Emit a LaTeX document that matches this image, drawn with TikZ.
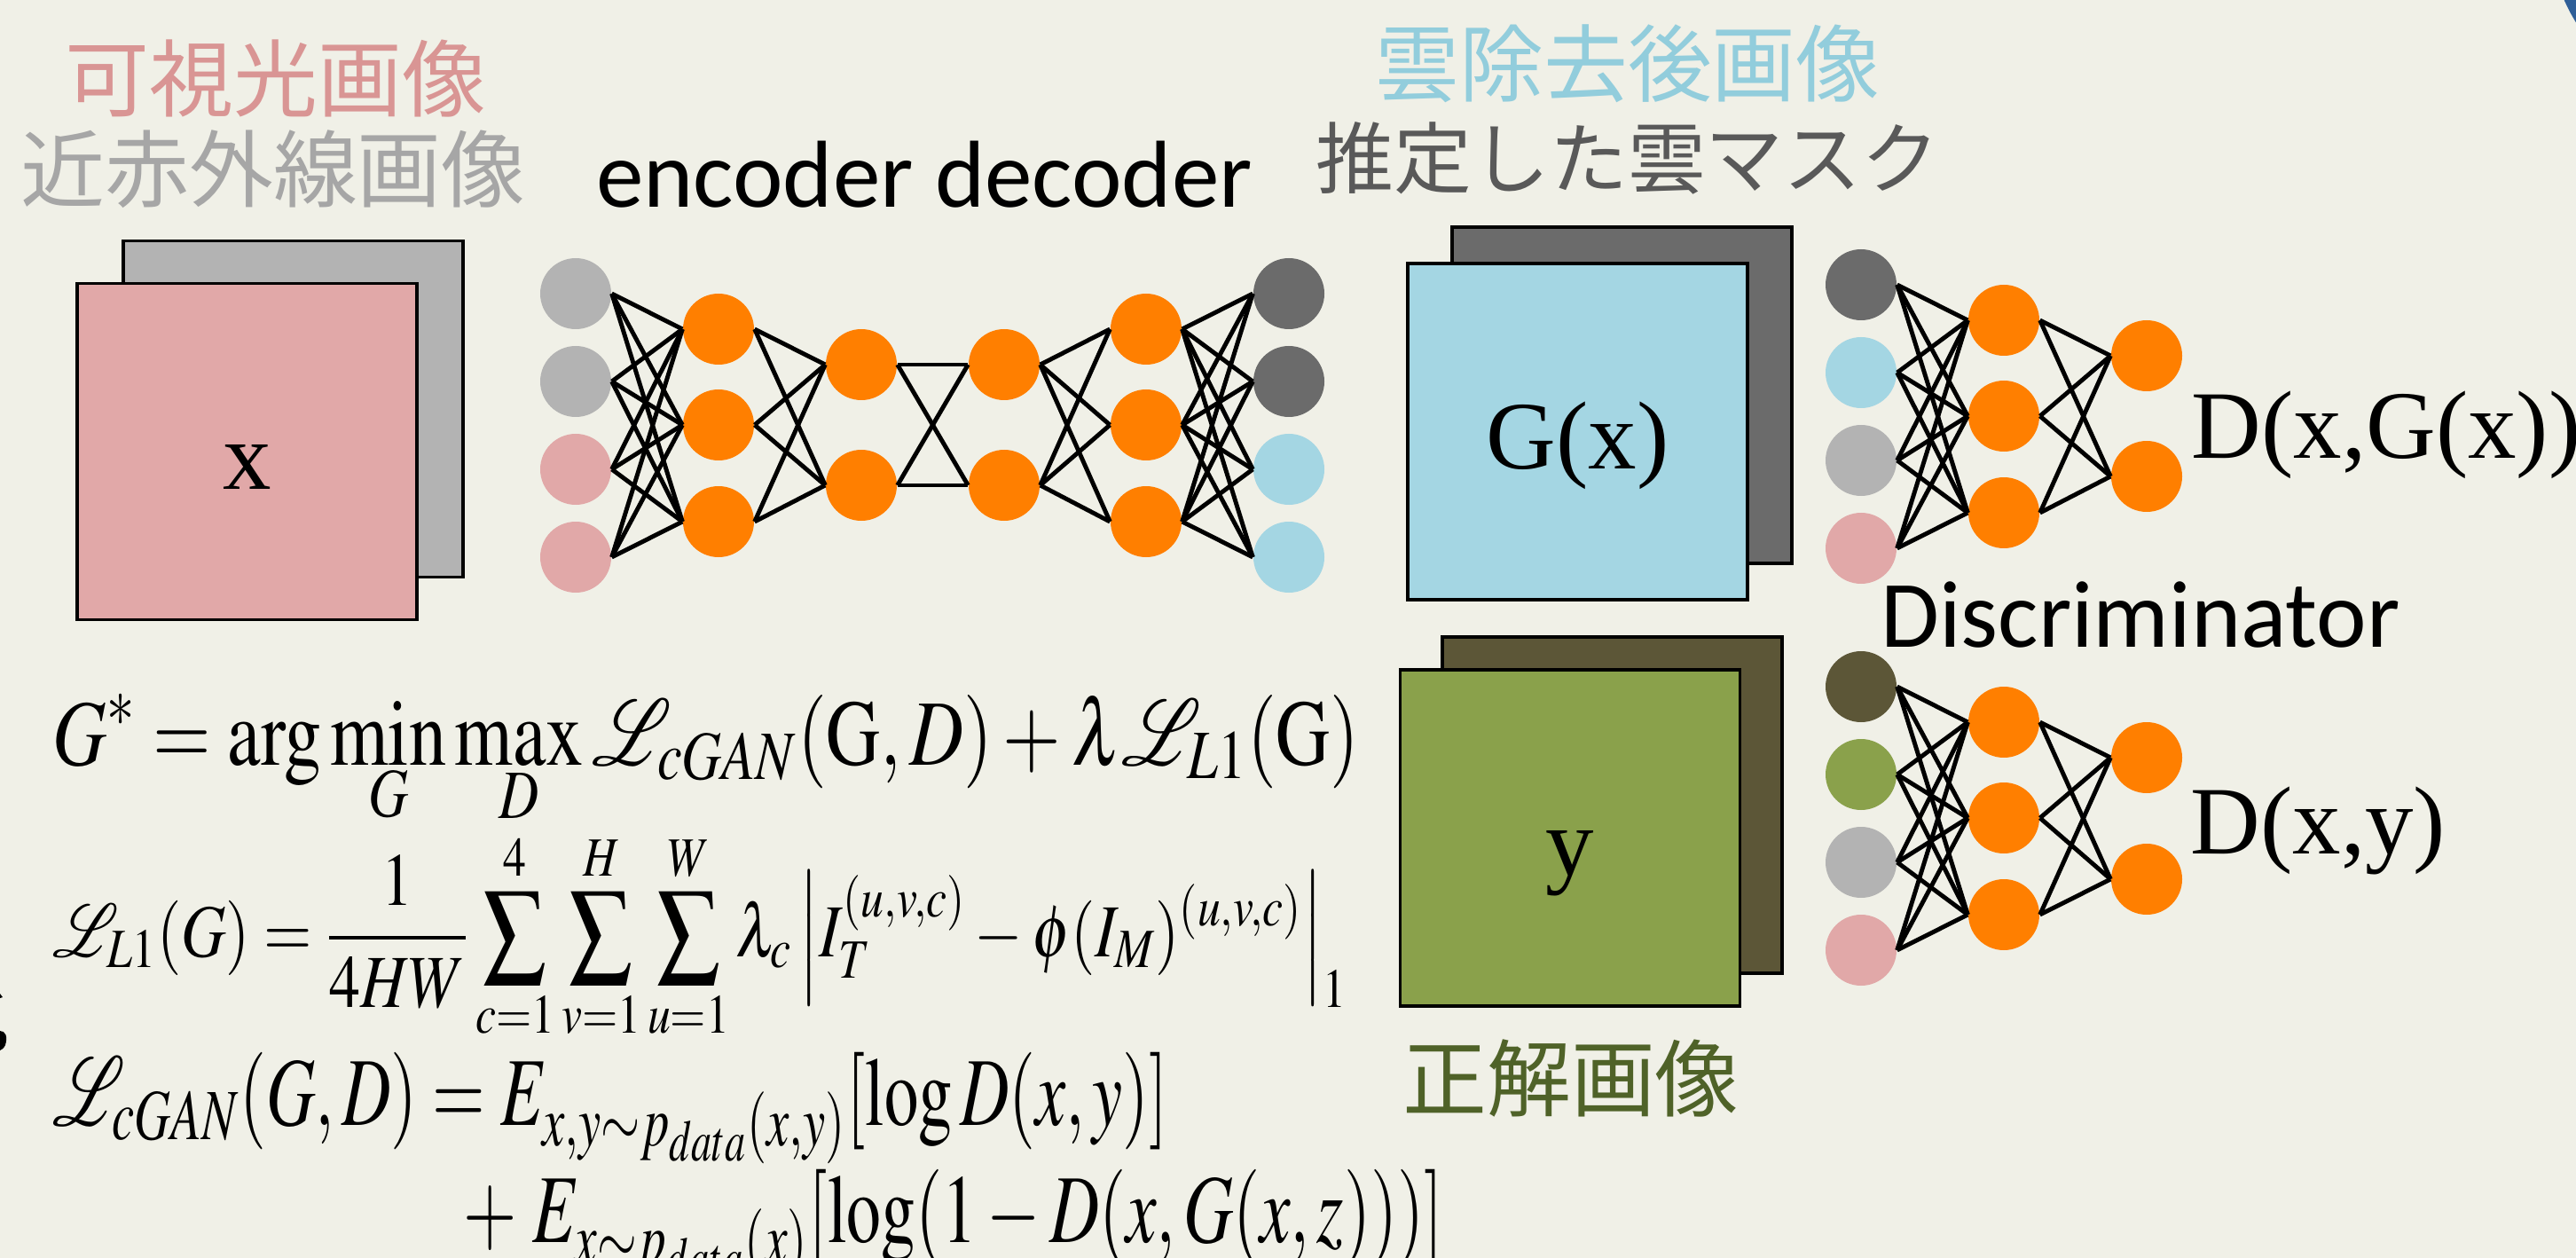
\documentclass[tikz,border=0pt]{standalone}
\usepackage{mathptmx}
\usepackage{graphicx}
\usepackage{fontspec}
\usepackage{tikz}
\usetikzlibrary{positioning,calc}
\newfontfamily\jpfont{Noto Sans CJK JP}
\newfontfamily\sansfont{Carlito}
\newfontfamily\seriffont{Liberation Serif}
\definecolor{paper}{HTML}{F0F0E7}
\definecolor{ink}{HTML}{000000}
\definecolor{lgray}{HTML}{B3B3B3}
\definecolor{dgray}{HTML}{6B6B6B}
\definecolor{pinkfill}{HTML}{E1A8A8}
\definecolor{bluefill}{HTML}{A4D6E3}
\definecolor{greenfill}{HTML}{8AA14B}
\definecolor{olivefill}{HTML}{5C5637}
\definecolor{hidorange}{HTML}{FF7F00}
\definecolor{pinktext}{HTML}{D99594}
\definecolor{graytext}{HTML}{A6A6A6}
\definecolor{bluetext}{HTML}{92CDDC}
\definecolor{dgraytext}{HTML}{595959}
\definecolor{olivetext}{HTML}{4F6228}
\definecolor{cornerblue}{HTML}{2F5F98}
\newcommand{\uplim}[1]{\smash{\raisebox{1pt}{$\scriptstyle #1$}}}
\tikzset{
  neuron/.style={circle, inner sep=0pt, minimum size=0.8cm, draw=none},
  hid/.style={neuron, fill=hidorange},
  img/.style={rectangle, draw=ink, line width=0.9pt, minimum width=3.83cm, minimum height=3.79cm},
  link/.style={line width=1.4pt, draw=ink},
  jptitle/.style={font=\jpfont\fontsize{27}{30}\selectfont, inner sep=0pt},
  sanslabel/.style={font=\sansfont\fontsize{30.5}{34}\selectfont, inner sep=0pt},
  imglabel/.style={font=\seriffont\fontsize{31}{34}\selectfont, inner sep=0pt},
  eq/.style={inner sep=0pt, anchor=base west, font=\fontsize{24}{28}\selectfont}
}

\begin{document}
\begin{tikzpicture}
  \useasboundingbox (0,0) rectangle (29.04,-14.18);
  \fill[paper] (0,0) rectangle (29.04,-14.18);
  \fill[cornerblue] (30.74,0.80) circle (2.0);

  % titles
  \node[jptitle, text=pinktext] (vistitle) at (3.11,-0.88) {可視光画像};
  \node[jptitle, text=graytext] (nirtitle) at (3.08,-1.91) {近赤外線画像};
  \node[jptitle, text=bluetext] (outtitle) at (18.35,-0.72) {雲除去後画像};
  \node[jptitle, text=dgraytext, font=\jpfont\fontsize{25}{28}\selectfont] (masktitle) at (18.35,-1.78) {推定した雲マスク};
  \node[sanslabel, anchor=base] (enctitle) at (10.42,-2.34) {encoder decoder};

  % input images
  \node[img, fill=lgray] (xback) at (3.305,-4.61) {};
  \node[img, fill=pinkfill] (xfront) at (2.785,-5.09) {};
  \node[imglabel, anchor=base] (xlab) at ([yshift=-0.42cm]xfront.center) {x};

  % generator
  \node[neuron, fill=lgray] (ein1) at (6.49,-3.31) {};
  \node[neuron, fill=lgray] (ein2) at (6.49,-4.30) {};
  \node[neuron, fill=pinkfill] (ein3) at (6.49,-5.29) {};
  \node[neuron, fill=pinkfill] (ein4) at (6.49,-6.28) {};
  \node[hid] (eh1) at (8.10,-3.71) {};
  \node[hid] (eh2) at (8.10,-4.79) {};
  \node[hid] (eh3) at (8.10,-5.88) {};
  \node[hid] (ez1) at (9.71,-4.11) {};
  \node[hid] (ez2) at (9.71,-5.47) {};
  \node[hid] (dz1) at (11.32,-4.11) {};
  \node[hid] (dz2) at (11.32,-5.47) {};
  \node[hid] (dh1) at (12.92,-3.71) {};
  \node[hid] (dh2) at (12.92,-4.79) {};
  \node[hid] (dh3) at (12.92,-5.88) {};
  \node[neuron, fill=dgray] (dout1) at (14.53,-3.31) {};
  \node[neuron, fill=dgray] (dout2) at (14.53,-4.30) {};
  \node[neuron, fill=bluefill] (dout3) at (14.53,-5.29) {};
  \node[neuron, fill=bluefill] (dout4) at (14.53,-6.28) {};

  \foreach \i in {1,...,4} \foreach \j in {1,2,3} \draw[link] (ein\i.east) -- (eh\j.west);
  \foreach \i in {1,2,3} \foreach \j in {1,2} \draw[link] (eh\i.east) -- (ez\j.west);
  \foreach \i in {1,2} \foreach \j in {1,2} \draw[link] (ez\i.east) -- (dz\j.west);
  \foreach \i in {1,2} \foreach \j in {1,2,3} \draw[link] (dz\i.east) -- (dh\j.west);
  \foreach \i in {1,2,3} \foreach \j in {1,...,4} \draw[link] (dh\i.east) -- (dout\j.west);

  % generated image
  \node[img, fill=dgray] (gback) at (18.285,-4.455) {};
  \node[img, fill=bluefill] (gfront) at (17.785,-4.865) {};
  \node[imglabel, anchor=base] (glab) at ([yshift=-0.42cm]gfront.center) {G(x)};

  % ground truth
  \node[img, fill=olivefill] (yback) at (18.175,-9.075) {};
  \node[img, fill=greenfill] (yfront) at (17.70,-9.445) {};
  \node[imglabel, anchor=base] (ylab) at ([yshift=-0.42cm]yfront.center) {y};
  \node[jptitle, text=olivetext] (gttitle) at (17.71,-12.15) {正解画像};

  % discriminator, fake pair
  \node[neuron, fill=dgray] (fin1) at (20.98,-3.21) {};
  \node[neuron, fill=bluefill] (fin2) at (20.98,-4.20) {};
  \node[neuron, fill=lgray] (fin3) at (20.98,-5.19) {};
  \node[neuron, fill=pinkfill] (fin4) at (20.98,-6.18) {};
  \node[hid] (fh1) at (22.59,-3.61) {};
  \node[hid] (fh2) at (22.59,-4.69) {};
  \node[hid] (fh3) at (22.59,-5.78) {};
  \node[hid] (fout1) at (24.20,-4.01) {};
  \node[hid] (fout2) at (24.20,-5.37) {};
  \foreach \i in {1,...,4} \foreach \j in {1,2,3} \draw[link] (fin\i.east) -- (fh\j.west);
  \foreach \i in {1,2,3} \foreach \j in {1,2} \draw[link] (fh\i.east) -- (fout\j.west);
  \node[imglabel, anchor=base west] (fakelab) at (24.70,-5.16) {D(x,G(x))};

  \node[sanslabel, anchor=base] (disctitle) at (24.13,-7.29) {Discriminator};

  % discriminator, real pair
  \node[neuron, fill=olivefill] (rin1) at (20.98,-7.74) {};
  \node[neuron, fill=greenfill] (rin2) at (20.98,-8.73) {};
  \node[neuron, fill=lgray] (rin3) at (20.98,-9.72) {};
  \node[neuron, fill=pinkfill] (rin4) at (20.98,-10.71) {};
  \node[hid] (rh1) at (22.59,-8.14) {};
  \node[hid] (rh2) at (22.59,-9.22) {};
  \node[hid] (rh3) at (22.59,-10.31) {};
  \node[hid] (rout1) at (24.20,-8.54) {};
  \node[hid] (rout2) at (24.20,-9.91) {};
  \foreach \i in {1,...,4} \foreach \j in {1,2,3} \draw[link] (rin\i.east) -- (rh\j.west);
  \foreach \i in {1,2,3} \foreach \j in {1,2} \draw[link] (rh\i.east) -- (rout\j.west);
  \node[imglabel, anchor=base west] (reallab) at (24.69,-9.62) {D(x,y)};

  % objective
  \node[eq] (eqobj) at (0.59,-8.62) {\scalebox{1.0}[1.25]{$\displaystyle G^{*} = \arg\min_{\uplim{G}}\max_{\uplim{D}}\mathcal{L}_{cGAN}(\mathrm{G},D) + \lambda\mathcal{L}_{L1}(\mathrm{G})$}};
  \node[eq] (eql1) at (0.59,-10.78) {\scalebox{0.83}[1.0]{$\displaystyle \mathcal{L}_{L1}(G) = \frac{1}{4HW}\sum_{c=1}^{4}\sum_{v=1}^{H}\sum_{u=1}^{W}\lambda_{c}\left|I_{T}^{(u,v,c)} - \phi(I_{M})^{(u,v,c)}\right|_{1}$}};
  \node[eq] (eqgan) at (0.59,-12.68) {\scalebox{0.91}[1.3]{$\displaystyle \mathcal{L}_{cGAN}(G,D) = E_{x,y\sim p_{data}(x,y)}[\log D(x,y)]$}};
  \node[eq] (eqgan2) at (5.22,-14.00) {\scalebox{0.92}[1.3]{$\displaystyle +\;E_{x\sim p_{data}(x)}[\log(1-D(x,G(x,z)))]$}};

  % cut-off glyph at the left edge
  \fill[ink] (0,-11.20) -- (0.03,-11.24) -- (0,-11.25) -- cycle;
  \fill[ink] (0,-11.62) .. controls (0.06,-11.62) and (0.09,-11.68) .. (0.06,-11.78) .. controls (0.04,-11.82) and (0.02,-11.83) .. (0,-11.84) -- cycle;
\end{tikzpicture}
\end{document}
